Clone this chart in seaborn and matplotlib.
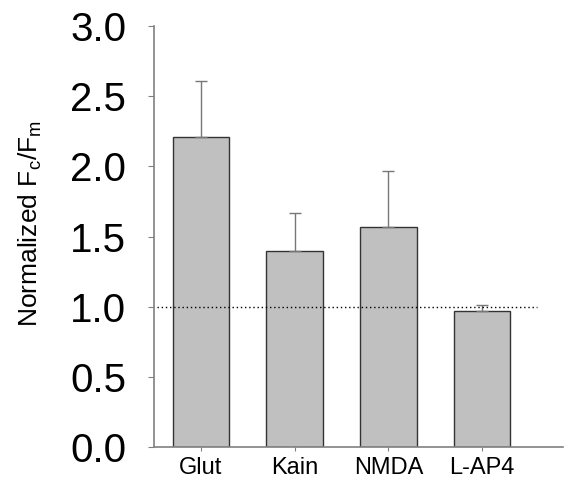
import numpy as np
import pandas as pd
import seaborn as sns
import matplotlib.pyplot as plt

sns.set_style('ticks')
plt.rcParams['font.family'] = ['Liberation Sans', 'DejaVu Sans']
plt.rcParams['text.color'] = 'black'
plt.rcParams['axes.labelcolor'] = 'black'
plt.rcParams['xtick.color'] = 'black'
plt.rcParams['ytick.color'] = 'black'

# values
conditions = ['Glut', 'Kain', 'NMDA', 'L-AP4']
means = [2.21, 1.40, 1.57, 0.97]
errors = [0.40, 0.27, 0.40, 0.04]

df = pd.DataFrame({'condition': conditions, 'value': means})

fig = plt.figure(figsize=(5.68, 4.82), dpi=100)
ax = fig.add_axes([0.271, 0.0726, 0.72, 0.873])

sns.barplot(data=df, x='condition', y='value', color='#c0c0c0',
            edgecolor='#333333', linewidth=1.0, width=0.6,
            errorbar=None, saturation=1, ax=ax)

# upper error bars only
x = np.arange(len(conditions))
ax.errorbar(x, means, yerr=[np.zeros(len(errors)), errors], fmt='none',
            ecolor='#777777', elinewidth=1.0, capsize=4.5, capthick=1.0, zorder=1)

# reference line at 1.0
ax.plot([-0.47, 3.58], [1.0, 1.0], linestyle=(0, (1, 2)), color='black', linewidth=1.0)

ax.set_xlim(-0.5, 3.86)
ax.set_ylim(0, 3.0)
ax.set_yticks(np.arange(0, 3.01, 0.5))
ax.set_yticklabels(['%.1f' % v for v in np.arange(0, 3.01, 0.5)], fontsize=29)
ax.tick_params(axis='x', labelsize=17, length=3, color='#808080', pad=4)
ax.tick_params(axis='y', length=4, color='#808080', pad=16)
ax.set_xlabel('')
ax.set_ylabel(r'Normalized F$_{\mathregular{c}}$/F$_{\mathregular{m}}$', fontsize=19)
ax.yaxis.set_label_coords(-0.27, 0.53)

sns.despine(ax=ax)
for s in ['left', 'bottom']:
    ax.spines[s].set_color('#808080')
    ax.spines[s].set_linewidth(1.2)

fig.savefig('out.png', dpi=100)
